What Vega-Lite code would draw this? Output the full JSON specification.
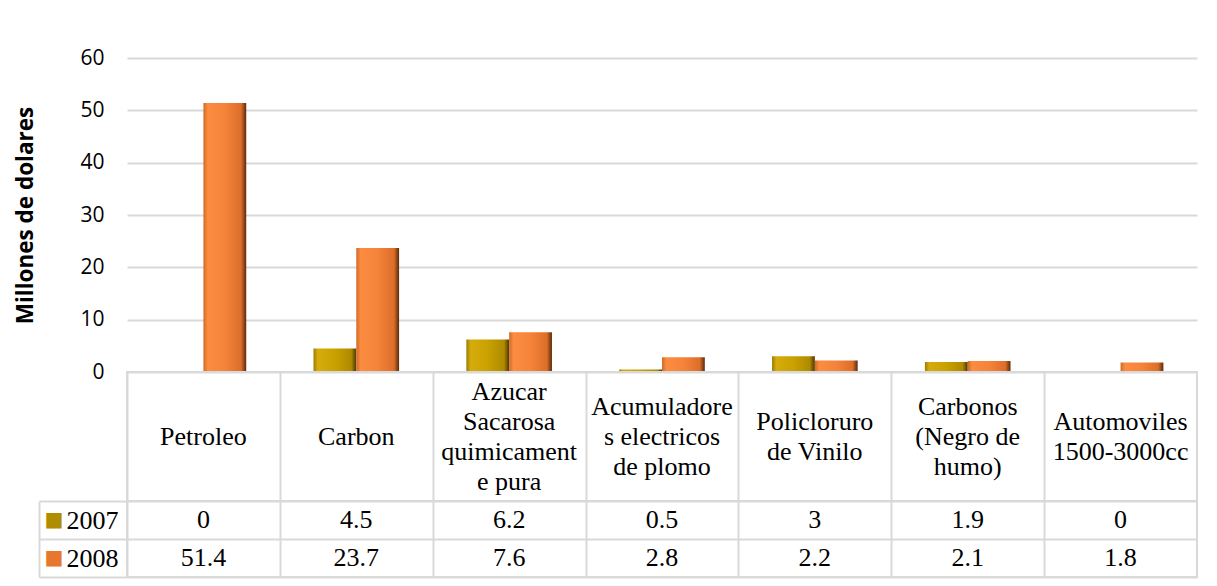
{
  "$schema": "https://vega.github.io/schema/vega-lite/v6.json",
  "padding": {"left": 14, "top": 47, "right": 0, "bottom": 0},
  "background": "white",
  "spacing": 0,
  "bounds": "flush",
  "config": {"view": {"stroke": null}},
  "datasets": {
    "d": [
      {"k": "Petroleo", "label": "Petroleo", "year": "2007", "value": 0},
      {"k": "Petroleo", "label": "Petroleo", "year": "2008", "value": 51.4},
      {"k": "Carbon", "label": "Carbon", "year": "2007", "value": 4.5},
      {"k": "Carbon", "label": "Carbon", "year": "2008", "value": 23.7},
      {"k": "Azucar", "label": "Azucar\nSacarosa\nquimicament\ne pura", "year": "2007", "value": 6.2},
      {"k": "Azucar", "label": "Azucar\nSacarosa\nquimicament\ne pura", "year": "2008", "value": 7.6},
      {"k": "Acumuladores", "label": "Acumuladore\ns electricos\nde plomo", "year": "2007", "value": 0.5},
      {"k": "Acumuladores", "label": "Acumuladore\ns electricos\nde plomo", "year": "2008", "value": 2.8},
      {"k": "Policloruro", "label": "Policloruro\nde Vinilo", "year": "2007", "value": 3},
      {"k": "Policloruro", "label": "Policloruro\nde Vinilo", "year": "2008", "value": 2.2},
      {"k": "Carbonos", "label": "Carbonos\n(Negro de\nhumo)", "year": "2007", "value": 1.9},
      {"k": "Carbonos", "label": "Carbonos\n(Negro de\nhumo)", "year": "2008", "value": 2.1},
      {"k": "Automoviles", "label": "Automoviles\n1500-3000cc", "year": "2007", "value": 0},
      {"k": "Automoviles", "label": "Automoviles\n1500-3000cc", "year": "2008", "value": 1.8}
    ]
  },
  "vconcat": [
    {
      "width": 1070,
      "height": 314,
      "data": {"name": "d"},
      "encoding": {
        "x": {"field": "k", "type": "nominal", "sort": ["Petroleo", "Carbon", "Azucar", "Acumuladores", "Policloruro", "Carbonos", "Automoviles"], "scale": {"paddingInner": 0.44, "paddingOuter": 0.22}, "axis": null},
        "xOffset": {"field": "year", "type": "nominal", "scale": {"paddingInner": 0, "paddingOuter": 0}},
        "y": {
          "field": "value", "type": "quantitative", "scale": {"domain": [0, 60]},
          "axis": {
            "title": "Millones de dolares", "titleFont": "Open Sans", "titleFontWeight": "bold", "titleFontSize": 22.5, "titleColor": "black", "titlePadding": 42,
            "labelFont": "Open Sans", "labelFontSize": 21, "labelColor": "black", "labelPadding": 23,
            "values": [0, 10, 20, 30, 40, 50, 60], "domain": false, "ticks": false,
            "grid": true, "gridColor": "#d9d9d9", "gridWidth": 2
          }
        }
      },
      "layer": [
        {
          "transform": [{"filter": "datum.year == '2007'"}],
          "mark": {"type": "bar", "fill": {"gradient": "linear", "x1": 0, "y1": 0, "x2": 1, "y2": 0, "stops": [
            {"offset": 0, "color": "#9c7c00"}, {"offset": 0.1, "color": "#d6ac0c"}, {"offset": 0.5, "color": "#c9a100"}, {"offset": 0.88, "color": "#b08a00"}, {"offset": 1, "color": "#4a3800"}
          ]}}
        },
        {
          "transform": [{"filter": "datum.year == '2008'"}],
          "mark": {"type": "bar", "fill": {"gradient": "linear", "x1": 0, "y1": 0, "x2": 1, "y2": 0, "stops": [
            {"offset": 0, "color": "#cf6a28"}, {"offset": 0.1, "color": "#fb8c40"}, {"offset": 0.5, "color": "#f5843a"}, {"offset": 0.88, "color": "#dc6e2a"}, {"offset": 1, "color": "#5a2a0a"}
          ]}}
        }
      ]
    },
    {
      "width": 1070,
      "height": 129,
      "data": {"name": "d"},
      "transform": [{"filter": "datum.year == '2007'"}],
      "view": {"stroke": "#d9d9d9", "strokeWidth": 2},
      "encoding": {
        "x": {"field": "k", "type": "nominal", "sort": ["Petroleo", "Carbon", "Azucar", "Acumuladores", "Policloruro", "Carbonos", "Automoviles"], "scale": {"type": "band", "paddingInner": 0, "paddingOuter": 0},
          "axis": {"orient": "top", "title": null, "labels": false, "ticks": false, "domain": false, "grid": true, "tickBand": "extent", "gridColor": "#d9d9d9", "gridWidth": 2}},
        "text": {"field": "label", "type": "nominal"}
      },
      "layer": [
        {
          "transform": [{"filter": "split(datum.label, '\\n').length == 1"}],
          "mark": {"type": "text", "font": "Liberation Serif", "fontSize": 26, "lineBreak": "\n", "lineHeight": 30, "baseline": "middle", "color": "black", "dy": 0}
        },
        {
          "transform": [{"filter": "split(datum.label, '\\n').length == 2"}],
          "mark": {"type": "text", "font": "Liberation Serif", "fontSize": 26, "lineBreak": "\n", "lineHeight": 30, "baseline": "middle", "color": "black", "dy": -15}
        },
        {
          "transform": [{"filter": "split(datum.label, '\\n').length == 3"}],
          "mark": {"type": "text", "font": "Liberation Serif", "fontSize": 26, "lineBreak": "\n", "lineHeight": 30, "baseline": "middle", "color": "black", "dy": -30}
        },
        {
          "transform": [{"filter": "split(datum.label, '\\n').length == 4"}],
          "mark": {"type": "text", "font": "Liberation Serif", "fontSize": 26, "lineBreak": "\n", "lineHeight": 30, "baseline": "middle", "color": "black", "dy": -45}
        }
      ]
    },
    {
      "width": 1070,
      "height": 76,
      "data": {"name": "d"},
      "view": {"stroke": "#d9d9d9", "strokeWidth": 2},
      "encoding": {
        "x": {"field": "k", "type": "nominal", "sort": ["Petroleo", "Carbon", "Azucar", "Acumuladores", "Policloruro", "Carbonos", "Automoviles"], "scale": {"type": "band", "paddingInner": 0, "paddingOuter": 0},
          "axis": {"orient": "top", "title": null, "labels": false, "ticks": false, "domain": false, "grid": true, "tickBand": "extent", "gridColor": "#d9d9d9", "gridWidth": 2}}
      },
      "layer": [
        {
          "mark": {"type": "text", "font": "Liberation Serif", "fontSize": 26, "baseline": "middle", "color": "black"},
          "encoding": {
            "y": {"field": "year", "type": "nominal", "scale": {"type": "band", "paddingInner": 0, "paddingOuter": 0},
              "axis": {"orient": "left", "title": null, "labelFont": "Liberation Serif", "labelFontSize": 26, "labelColor": "black", "labelPadding": -79,
                "ticks": true, "tickBand": "extent", "tickSize": 88, "tickColor": "#d9d9d9", "tickWidth": 2, "domain": false,
                "grid": true, "gridColor": "#d9d9d9", "gridWidth": 2}},
            "text": {"field": "value", "type": "quantitative"}
          }
        },
        {
          "mark": {"type": "text", "opacity": 0},
          "encoding": {
            "y": {"field": "year", "type": "nominal", "scale": {"type": "band", "paddingInner": 0, "paddingOuter": 0},
              "axis": {"orient": "left", "offset": 88, "title": null, "labelExpr": "'■'", "labelFont": "DejaVu Sans", "labelFontSize": 20, "labelPadding": -24,
                "labelColor": {"condition": {"test": "datum.value == '2007'", "value": "#b08c00"}, "value": "#e8772e"},
                "ticks": false, "domain": true, "domainColor": "#d9d9d9", "domainWidth": 2, "grid": false}},
            "text": {"field": "value", "type": "quantitative"}
          }
        }
      ],
      "resolve": {"axis": {"y": "independent"}}
    }
  ]
}
